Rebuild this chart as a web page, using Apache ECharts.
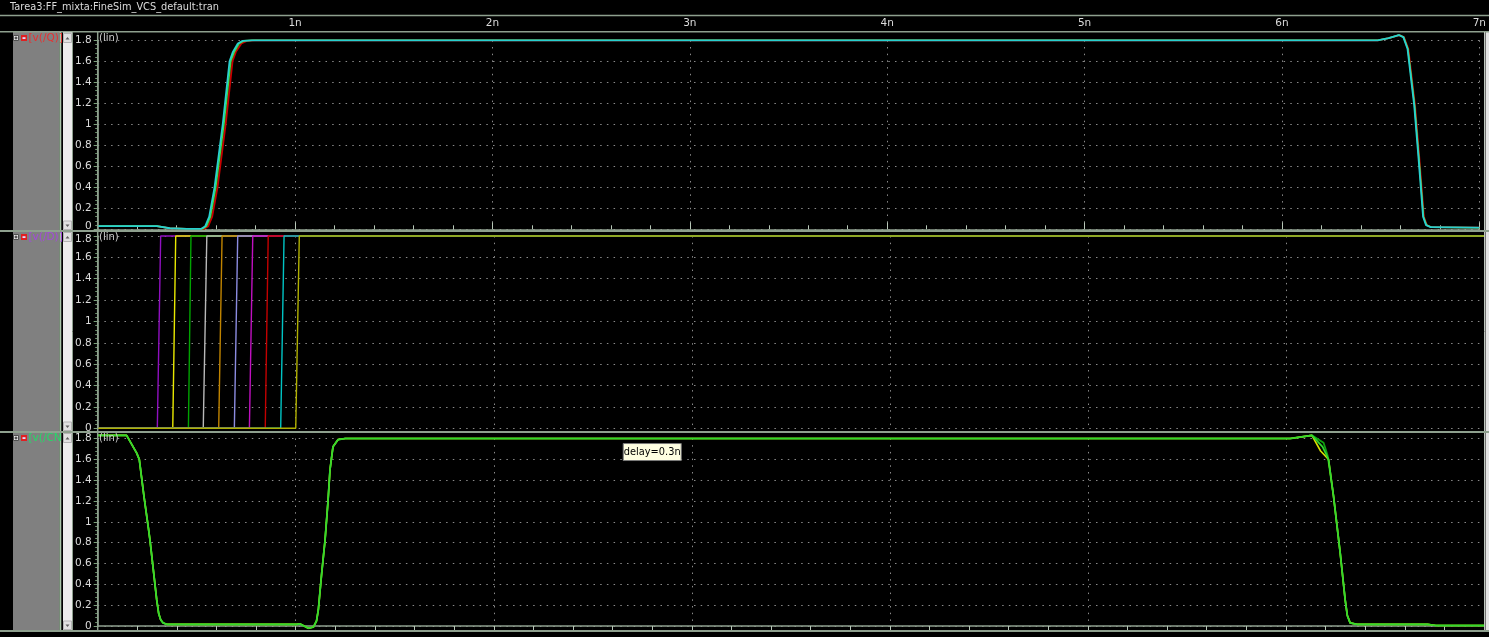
<!DOCTYPE html>
<html><head><meta charset="utf-8">
<script src="https://cdn.jsdelivr.net/npm/echarts@6/dist/echarts.min.js"></script>
<style>html,body{margin:0;padding:0;background:#000;overflow:hidden;}#c{width:1489px;height:637px;}</style>
</head><body><div id="c"></div>
<script>
// ---------- data (time in ns, volts) ----------
const TITLE = 'Tarea3:FF_mixta:FineSim_VCS_default:tran';
const PANEL_NAMES = ['[v(/Q)]', '[v(/D)]', '[v(/CN'];
const PANEL_NAME_COLORS = ['#e83030', '#a448dc', '#22dc66'];
const AXIS_SCALE_LABEL = '(lin)';
const X_MIN = 0, X_MAX = 7, X_STEP = 1;
const Y_MIN = 0, Y_MAX = 1.8, Y_STEP = 0.2;
const DELAY_TEXT = 'delay=0.3n';
const DELAY_POS = [2.8, 1.67];

const Q_CYAN = [[0,0.03],[0.3,0.03],[0.365,0.01],[0.45,0.005],[0.525,0.005],[0.545,0.03],[0.565,0.12],[0.592,0.40],[0.634,1.01],[0.668,1.6],[0.685,1.69],[0.71,1.77],[0.734,1.795],[0.78,1.8],[6.485,1.8],[6.54,1.82],[6.592,1.85],[6.615,1.83],[6.636,1.72],[6.67,1.18],[6.692,0.675],[6.715,0.12],[6.73,0.04],[6.754,0.02],[7,0.015]];
const Q_RED = [[0,0.03],[0.3,0.03],[0.365,0.01],[0.45,0.005],[0.54,0.005],[0.56,0.03],[0.58,0.12],[0.607,0.40],[0.649,1.01],[0.683,1.6],[0.70,1.69],[0.728,1.77],[0.755,1.795],[0.795,1.8],[6.485,1.8],[6.54,1.82],[6.595,1.85],[6.618,1.83],[6.64,1.72],[6.674,1.18],[6.696,0.675],[6.719,0.12],[6.734,0.04],[6.758,0.02],[7,0.015]];
const Q_GREEN = [[0,0.03],[0.3,0.03],[0.365,0.01],[0.45,0.005],[0.531,0.005],[0.551,0.03],[0.571,0.12],[0.598,0.40],[0.64,1.01],[0.674,1.6],[0.692,1.69],[0.717,1.77],[0.741,1.795],[0.786,1.8],[6.485,1.8],[6.54,1.82],[6.593,1.85],[6.616,1.83],[6.638,1.72],[6.672,1.18],[6.694,0.675],[6.717,0.12],[6.732,0.04],[6.756,0.02],[7,0.015]];

const D_EDGE_START = [0.301, 0.379, 0.458, 0.533, 0.611, 0.690, 0.766, 0.846, 0.924, 1.000];
const D_EDGE_END   = [0.318, 0.394, 0.471, 0.551, 0.628, 0.707, 0.783, 0.861, 0.941, 1.018];
const D_LOW = 0, D_HIGH = 1.8;
const D_COLORS = ['#9010c0', '#e8e800', '#00a400', '#b8b8b8', '#c08400', '#8c8ce0', '#c010c0', '#c40000', '#00c4c4', '#b0b000'];

const CN_DARK = [[0,1.83],[0.146,1.83],[0.197,1.66],[0.21,1.6],[0.234,1.24],[0.256,0.94],[0.264,0.825],[0.298,0.25],[0.308,0.12],[0.318,0.06],[0.33,0.03],[0.348,0.016],[1.005,0.016],[1.022,0.02],[1.064,-0.022],[1.089,-0.01],[1.105,0.05],[1.114,0.154],[1.131,0.506],[1.148,0.825],[1.163,1.2],[1.173,1.5],[1.188,1.72],[1.214,1.79],[1.25,1.8],[6.022,1.8],[6.131,1.83],[6.19,1.76],[6.21,1.64],[6.24,1.25],[6.274,0.70],[6.299,0.25],[6.31,0.1],[6.324,0.03],[6.358,0.016],[6.715,0.016],[6.757,0.005],[7,0.005]];
const CN_YELLOW = [[0,1.83],[0.146,1.83],[0.197,1.66],[0.21,1.6],[0.234,1.24],[0.256,0.94],[0.264,0.825],[0.298,0.25],[0.308,0.12],[0.318,0.06],[0.33,0.03],[0.348,0.016],[1.005,0.016],[1.022,0.02],[1.064,-0.022],[1.089,-0.01],[1.105,0.05],[1.114,0.154],[1.131,0.506],[1.148,0.825],[1.163,1.2],[1.173,1.5],[1.188,1.72],[1.214,1.79],[1.25,1.8],[6.022,1.8],[6.131,1.83],[6.175,1.68],[6.215,1.6],[6.24,1.25],[6.274,0.70],[6.299,0.25],[6.31,0.1],[6.324,0.03],[6.358,0.016],[6.715,0.016],[6.757,0.005],[7,0.005]];
const CN_GREEN = [[0,1.83],[0.146,1.83],[0.197,1.66],[0.21,1.6],[0.234,1.24],[0.256,0.94],[0.264,0.825],[0.298,0.25],[0.308,0.12],[0.318,0.06],[0.33,0.03],[0.348,0.016],[1.005,0.016],[1.022,0.02],[1.064,-0.022],[1.089,-0.01],[1.105,0.05],[1.114,0.154],[1.131,0.506],[1.148,0.825],[1.163,1.2],[1.173,1.5],[1.188,1.72],[1.214,1.79],[1.25,1.8],[6.022,1.8],[6.131,1.83],[6.185,1.72],[6.215,1.6],[6.24,1.25],[6.274,0.70],[6.299,0.25],[6.31,0.1],[6.324,0.03],[6.358,0.016],[6.715,0.016],[6.757,0.005],[7,0.005]];

// ---------- styling / layout ----------
const FONT = 'DejaVu Sans';
const SEP = '#8ea08e';
const TXT = '#dcdcdc';
const DOT = '#8a8a8a';
const PLOT_L = 97.7, PLOT_W = 1386.3;
const GRIDS = [
  {top: 40.3, height: 189},
  {top: 236, height: 192.3},
  {top: 438.5, height: 187.5}
];
const PANELS = [[32, 231], [231, 432], [432, 631]];

const chart = echarts.init(document.getElementById('c'), null, {renderer: 'canvas'});
const fmtY = v => String(+v.toFixed(1));

const xAxes = GRIDS.map((g, i) => ({
  gridIndex: i, type: 'value', min: X_MIN, max: X_MAX, interval: X_STEP,
  position: i === 2 ? 'bottom' : 'top',
  offset: i === 0 ? 8.6 : (i === 2 ? 5 : 0),
  axisLine: {show: i !== 1, lineStyle: {color: SEP, width: 1.5}},
  axisTick: {show: i !== 1, length: i === 0 ? 7 : 5, lineStyle: {color: '#b8c8b8'}},
  minorTick: {show: i !== 1, splitNumber: 5, length: 4, lineStyle: {color: '#b8c8b8'}},
  axisLabel: {show: i === 0, color: TXT, fontFamily: FONT, fontSize: 10.5, margin: 3,
    formatter: v => v === 0 ? '' : v + 'n'},
  splitLine: {show: true, lineStyle: {color: DOT, type: [1.5, 5.2], width: 1}},
  minorSplitLine: {show: false}
}));

const yAxes = GRIDS.map((g, i) => ({
  gridIndex: i, type: 'value', min: Y_MIN, max: Y_MAX, interval: Y_STEP,
  axisLine: {show: true, lineStyle: {color: SEP, width: 1.5}},
  axisTick: {show: true, length: 4, lineStyle: {color: '#7aa07a'}},
  minorTick: {show: true, splitNumber: 5, length: 2.5, lineStyle: {color: '#6a906a'}},
  axisLabel: {color: TXT, fontFamily: FONT, fontSize: 10.5, margin: 6,
    formatter: v => {
      if (i === 0 && Math.abs(v) < 1e-6) return '{up|0}';
      if (i === 1 && Math.abs(v - 1.8) < 1e-6) return '{dn|1.8}';
      return fmtY(v);
    },
    rich: {
      up: {color: TXT, fontFamily: FONT, fontSize: 10.5, padding: [0, 0, 6, 0]},
      dn: {color: TXT, fontFamily: FONT, fontSize: 10.5, padding: [6, 0, 0, 0]}
    }},
  splitLine: {show: true, lineStyle: {color: DOT, type: [1.5, 5.2], width: 1}}
}));

function lineSeries(idx, data, color, w) {
  return {type: 'line', xAxisIndex: idx, yAxisIndex: idx, data: data, showSymbol: false,
    symbol: 'none', clip: false, animation: false, silent: true,
    lineStyle: {color: color, width: w || 1.5}};
}

const series = [];
series.push(lineSeries(0, Q_RED, '#c80000', 1.8));
series.push(lineSeries(0, Q_GREEN, '#40e040', 1.6));
series.push(lineSeries(0, Q_CYAN, '#28d0d0', 1.8));
D_EDGE_START.forEach((ts, k) => {
  const te = D_EDGE_END[k];
  series.push(lineSeries(1, [[X_MIN, D_LOW], [ts, D_LOW], [te, D_HIGH], [X_MAX, D_HIGH]], D_COLORS[k], 1.4));
});
series.push(lineSeries(2, CN_DARK, '#10a010', 1.8));
series.push(lineSeries(2, CN_YELLOW, '#d8e000', 1.6));
series.push(lineSeries(2, CN_GREEN, '#30d830', 1.7));

chart.setOption({
  backgroundColor: '#000',
  animation: false,
  grid: GRIDS.map(g => ({left: PLOT_L, width: PLOT_W, top: g.top, height: g.height, containLabel: false})),
  xAxis: xAxes,
  yAxis: yAxes,
  series: series
});

// ---------- chrome (waveform-viewer frame) ----------
const G = [];
const font = s => s + 'px "' + FONT + '"';
function rect(x, y, w, h, fill, stroke, z) {
  G.push({type: 'rect', silent: true, z: z || 40, shape: {x, y, width: w, height: h},
    style: {fill: fill, stroke: stroke || null, lineWidth: 1}});
}
function line(x1, y1, x2, y2, color, w, z) {
  G.push({type: 'line', silent: true, z: z || 60, shape: {x1, y1, x2, y2},
    style: {stroke: color, lineWidth: w || 1}});
}
function text(x, y, t, color, size, align, z) {
  G.push({type: 'text', silent: true, z: z || 70, x: x, y: y,
    style: {text: t, fill: color, font: font(size), align: align || 'left', verticalAlign: 'middle'}});
}
function tri(pts, z) {
  G.push({type: 'polygon', silent: true, z: z || 65, shape: {points: pts}, style: {fill: '#606060'}});
}

text(10, 7, TITLE, TXT, 9.8);
line(0, 15.5, 1489, 15.5, SEP, 1.5);
line(0, 31.7, 1489, 31.7, SEP, 1.5);

rect(13, 32, 46, 599, '#808080', null, 40);
rect(63, 32, 9, 599, '#ececec', null, 40);
line(60.3, 32, 60.3, 631, '#a8c4a8', 2);
line(72.5, 32, 72.5, 631, SEP, 1);
line(PLOT_L, 32, PLOT_L, 631, SEP, 1.5);
line(1484.5, 32, 1484.5, 631, '#c0c8c0', 1);
rect(1485.5, 32, 4, 599, '#e4e4e4', null, 40);

PANELS.forEach((p, i) => {
  const top = p[0], bot = p[1];
  line(0, bot, 1489, bot, SEP, 1.8);
  rect(63.5, top + 1.5, 8, 9, '#e0e0e0', '#b4b4b4', 45);
  tri([[65.5, top + 7.5], [69.5, top + 7.5], [67.5, top + 5]]);
  rect(63.5, bot - 10, 8, 8.5, '#e0e0e0', '#b4b4b4', 45);
  tri([[65.5, bot - 6.5], [69.5, bot - 6.5], [67.5, bot - 4]]);
  rect(13.5, top + 3.5, 5, 5, '#e8e8e8', '#505050', 45);
  line(14.5, top + 6, 17.5, top + 6, '#202020', 1, 46);
  line(16, top + 4.5, 16, top + 7.5, '#202020', 1, 46);
  rect(21, top + 3, 6, 6, '#e02020', null, 45);
  rect(22.5, top + 5.2, 3, 1.8, '#dcdcff', null, 46);
  text(28.5, top + 6.5, PANEL_NAMES[i], PANEL_NAME_COLORS[i], 10.5);
  text(99, top + 6.5, AXIS_SCALE_LABEL, '#d0d0d0', 10);
});

const dp = chart.convertToPixel({xAxisIndex: 2, yAxisIndex: 2}, DELAY_POS);
rect(dp[0] - 29, dp[1] - 8.5, 58, 17, '#ffffe1', '#7a7a7a', 80);
G.push({type: 'text', silent: true, z: 81, x: dp[0], y: dp[1] + 0.5,
  style: {text: DELAY_TEXT, fill: '#000', font: font(9.8), align: 'center', verticalAlign: 'middle'}});

chart.setOption({graphic: G});
</script>
</body></html>
